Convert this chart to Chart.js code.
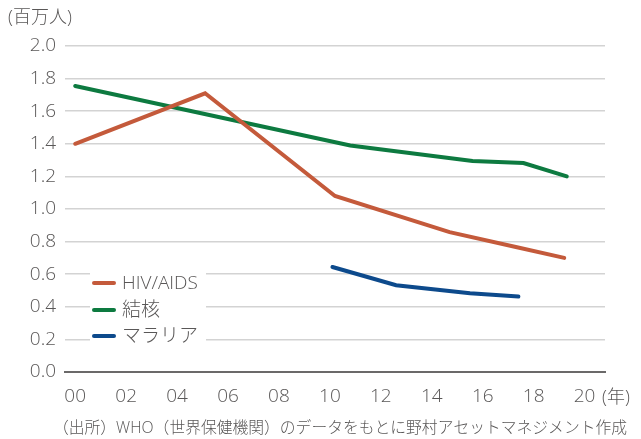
<!DOCTYPE html>
<html>
<head>
<meta charset="utf-8">
<script src="https://cdn.jsdelivr.net/npm/chart.js@4.4.0/dist/chart.umd.min.js"></script>
<style>
  html, body { margin: 0; padding: 0; background: #fff; }
  #wrap { width: 641px; height: 439px; position: relative; }
</style>
</head>
<body>
<div id="wrap"><canvas id="lineChart"></canvas></div>
<script>
const hivYears = [0, 5.1, 10.2, 14.7, 17.3, 19.2];
const hivValues = [1.40, 1.71, 1.08, 0.858, 0.767, 0.70];

const tbYears = [0, 10.8, 15.6, 17.6, 19.3];
const tbValues = [1.755, 1.39, 1.294, 1.282, 1.20];

const malariaYears = [10.1, 12.6, 15.5, 17.4];
const malariaValues = [0.644, 0.532, 0.483, 0.463];

const seriesNames = ['HIV/AIDS', '結核', 'マラリア'];
const seriesColors = ['#c45a3b', '#0d7a40', '#0d4a8c'];

const xTicks = [0, 2, 4, 6, 8, 10, 12, 14, 16, 18, 20];

const yTitle = '(百万人)';
const xUnit = '(年)';
const sourceNote = '（出所）WHO（世界保健機関）のデータをもとに野村アセットマネジメント作成';

const FONT = '"Open Sans", "Noto Sans CJK JP", sans-serif';
const TEXT = '#595757';

const toPoints = (xs, ys) => xs.map((x, i) => ({ x: x, y: ys[i] }));

// legend sits inside the plot on a white box, plus the loose texts
const extrasPlugin = {
  id: 'extras',
  afterDatasetsDraw(chart) {
    const ctx = chart.ctx;
    ctx.save();
    ctx.fillStyle = '#fff';
    ctx.fillRect(90, 269, 116, 77);
    const rows = [283, 310, 336];
    ctx.font = '300 19px ' + FONT;
    ctx.textBaseline = 'middle';
    ctx.textAlign = 'left';
    chart.data.datasets.forEach((ds, i) => {
      ctx.strokeStyle = ds.borderColor;
      ctx.lineWidth = 4;
      ctx.lineCap = 'round';
      ctx.beginPath();
      ctx.moveTo(94, rows[i]);
      ctx.lineTo(114, rows[i]);
      ctx.stroke();
      ctx.fillStyle = TEXT;
      ctx.fillText(ds.label, 122, rows[i] + 1);
    });

    ctx.fillStyle = TEXT;
    ctx.font = '300 18px ' + FONT;
    ctx.textBaseline = 'middle';
    ctx.fillText(yTitle, 8, 18, 72);
    ctx.fillText(xUnit, 602, 398, 36);
    ctx.font = '300 16px ' + FONT;
    ctx.fillText(sourceNote, 53, 428, 574);
    ctx.restore();
  }
};

new Chart(document.getElementById('lineChart'), {
  type: 'line',
  data: {
    datasets: [
      { label: seriesNames[0], data: toPoints(hivYears, hivValues), borderColor: seriesColors[0] },
      { label: seriesNames[1], data: toPoints(tbYears, tbValues), borderColor: seriesColors[1] },
      { label: seriesNames[2], data: toPoints(malariaYears, malariaValues), borderColor: seriesColors[2] }
    ]
  },
  options: {
    responsive: true,
    maintainAspectRatio: false,
    animation: false,
    layout: { padding: { top: 46, right: 36, left: 0, bottom: 0 } },
    elements: {
      line: { borderWidth: 4, tension: 0, borderCapStyle: 'round', borderJoinStyle: 'miter' },
      point: { radius: 0 }
    },
    plugins: {
      legend: { display: false },
      tooltip: { enabled: false }
    },
    scales: {
      x: {
        type: 'linear',
        min: -0.4,
        max: 20.8,
        afterBuildTicks: (scale) => { scale.ticks = xTicks.map(v => ({ value: v })); },
        afterFit: (scale) => { scale.height = 67; },
        grid: { display: false, drawTicks: false },
        border: { display: true, color: '#6b6969', width: 2 },
        ticks: {
          padding: 13,
          maxRotation: 0,
          autoSkip: false,
          color: TEXT,
          font: { family: FONT, size: 19, weight: 300 },
          callback: (v) => String(v).padStart(2, '0')
        }
      },
      y: {
        min: 0,
        max: 2.0,
        afterFit: (scale) => { scale.width = 65; },
        grid: { color: '#d3d3d3', lineWidth: 1.5, drawTicks: false },
        border: { display: false },
        ticks: {
          stepSize: 0.2,
          padding: 9,
          color: TEXT,
          font: { family: FONT, size: 19, weight: 300 },
          callback: (v) => v.toFixed(1)
        }
      }
    }
  },
  plugins: [extrasPlugin]
});
</script>
</body>
</html>
